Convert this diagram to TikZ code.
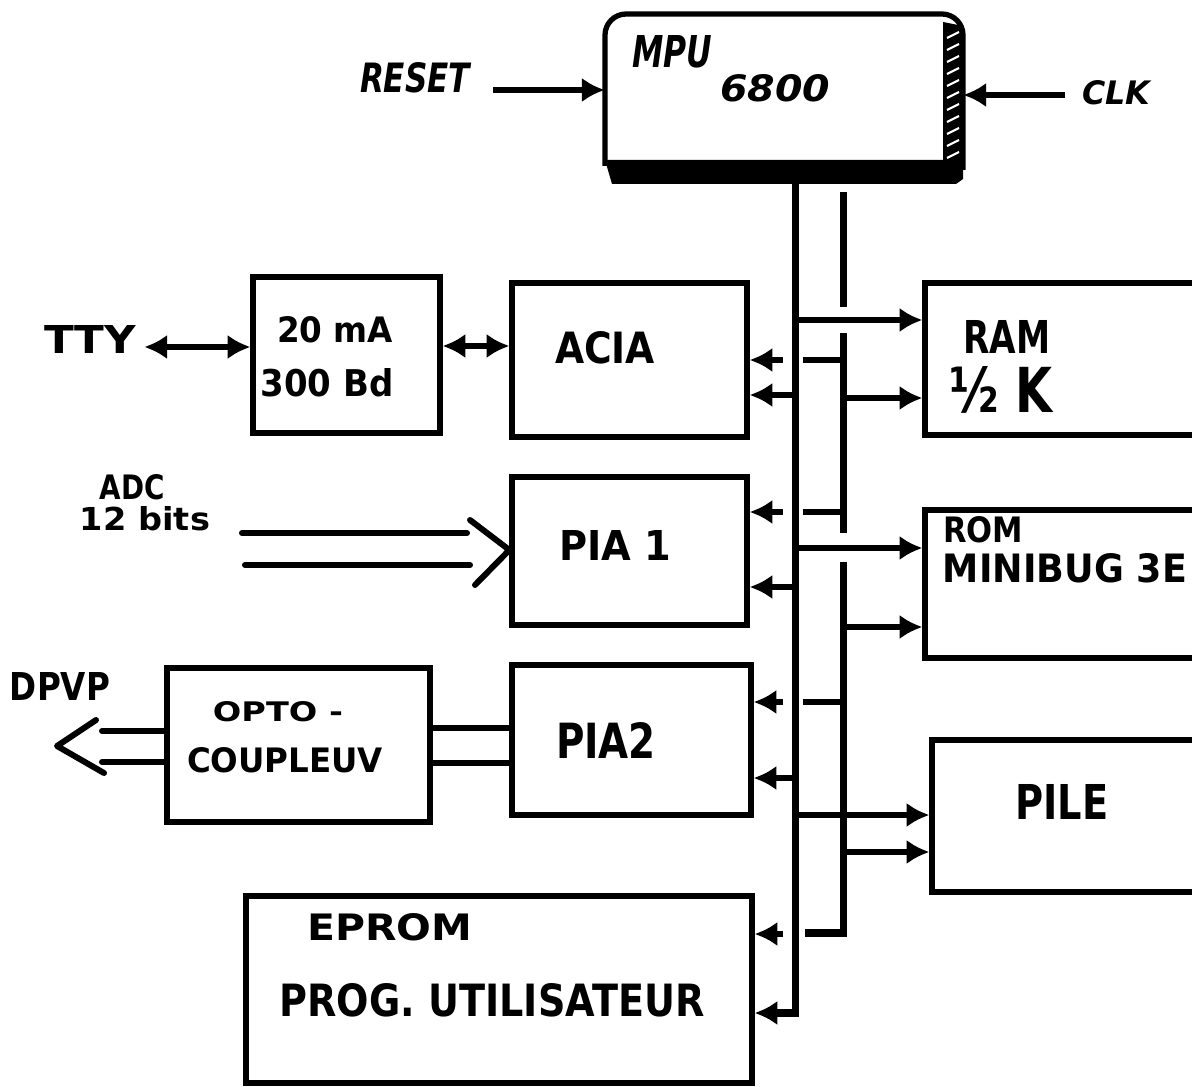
\documentclass[tikz,border=0pt]{standalone}
\usepackage{fontspec}
\setmainfont{DejaVu Sans}
\usetikzlibrary{arrows.meta}
\newlength\upx
\setlength\upx{0.02cm}
\newcommand\fitxt[3]{\resizebox{#1\upx}{#2\upx}{\bfseries #3}}
\newcommand\fitit[3]{\resizebox{#1\upx}{#2\upx}{\bfseries\itshape #3}}
\begin{document}
\begin{tikzpicture}[x=0.02cm,y=-0.02cm,
  blk/.style={draw, line width=3pt, inner sep=0pt},
  txt/.style={inner sep=0pt},
  bus/.style={line width=4pt},
  conn/.style={line width=3.4pt},
  tip/.tip={Latex[length=13pt,width=14pt]},
  arr/.style={conn, -tip},
  darr/.style={conn, tip-tip},
  open/.style={line width=3.4pt, line cap=round, line join=round}]
\useasboundingbox (0,0) rectangle (1192,1087);
\clip (0,0) rectangle (1192,1087);
\fill[white] (0,0) rectangle (1192,1087);

% ---------- MPU ----------
\node[inner sep=0pt, minimum width=7.16cm, minimum height=3.38cm] (mpu) at (784,98.5) {};
\fill (605,160) -- (963,160) -- (963,179) -- (956,184) -- (612,184) -- cycle;
\fill (943,22) -- (963,26) -- (963,165) -- (943,165) -- cycle;
\foreach \yy in {34,46,...,154} \draw[white, line width=1.2pt] (947,\yy+4) -- (959,\yy-2);
\draw[line width=3pt, rounded corners=12pt] (605,166) -- (605,14) -- (963,14) -- (963,170);
\node[txt] (tmpu) at (672,52) {\fitit{80}{32}{MPU}};
\node[txt] (t6800) at (775,88) {\fitit{110}{27}{6800}};
\node[txt] (treset) at (415,78) {\fitit{110}{30}{RESET}};
\node[txt] (tclk) at (1116,93) {\fitit{68}{24}{CLK}};
\draw[arr] (493,90) -- (mpu.west |- 0,90);
\draw[arr] (1065,95) -- (mpu.east |- 0,95);

% ---------- boxes ----------
\node[blk, minimum width=3.74cm, minimum height=3.12cm] (ma) at (346.5,355) {};
\node[blk, minimum width=4.70cm, minimum height=3.08cm] (acia) at (629.5,360) {};
\node[blk, minimum width=6.10cm, minimum height=3.04cm] (ram) at (1077.5,359) {};
\node[blk, minimum width=4.70cm, minimum height=2.96cm] (pia1) at (629.5,551) {};
\node[blk, minimum width=6.10cm, minimum height=2.96cm] (rom) at (1077.5,584) {};
\node[blk, minimum width=4.78cm, minimum height=3.00cm] (pia2) at (631.5,740) {};
\node[blk, minimum width=5.26cm, minimum height=3.08cm] (opto) at (298.5,745) {};
\node[blk, minimum width=5.96cm, minimum height=3.04cm] (pile) at (1081,816) {};
\node[blk, minimum width=10.12cm, minimum height=3.74cm] (eprom) at (499,989.5) {};

% ---------- texts ----------
\node[txt] (ttty) at (90,340) {\fitxt{92}{28}{TTY}};
\node[txt] (t20) at (335,330) {\fitxt{116}{26}{20 mA}};
\node[txt] (t300) at (327,383) {\fitxt{133}{28}{300 Bd}};
\node[txt] (tacia) at (605,348) {\fitxt{100}{32}{ACIA}};
\node[txt] (tram) at (1007,337) {\fitxt{87}{33}{RAM}};
\node[txt] (thalf) at (1001,390) {\fitxt{103}{46}{½ K}};
\node[txt] (trom) at (983,530) {\fitxt{80}{26}{ROM}};
\node[txt] (tmini) at (1065,568) {\fitxt{244}{29}{MINIBUG 3E}};
\node[txt] (tpia1) at (615,545) {\fitxt{112}{30}{PIA 1}};
\node[txt] (tadc) at (132,487) {\fitxt{65}{25}{ADC}};
\node[txt] (tbits) at (145,519) {\fitxt{130}{24}{12 bits}};
\node[txt] (tpia2) at (606,740) {\fitxt{100}{36}{PIA2}};
\node[txt] (tdpvp) at (60,686) {\fitxt{100}{28}{DPVP}};
\node[txt] (topto) at (278,712) {\fitxt{130}{20}{OPTO -}};
\node[txt] (tcoup) at (285,760) {\fitxt{196}{25}{COUPLEUV}};
\node[txt] (tpile) at (1062,802) {\fitxt{93}{35}{PILE}};
\node[txt] (tepr) at (390,927) {\fitxt{165}{27}{EPROM}};
\node[txt] (tprog) at (492,1000) {\fitxt{425}{33}{PROG. UTILISATEUR}};

% ---------- left connections ----------
\draw[darr] (ttty.east |- 0,347) ++(8,0) -- (ma.west |- 0,347);
\draw[darr] (ma.east |- 0,346) -- (acia.west |- 0,346);
\coordinate (adcA) at (242,533);
\coordinate (adcB) at (245,565);
\draw[open] (adcA) -- (467,533);
\draw[open] (adcB) -- (470,565);
\draw[open] (470,520) -- (pia1.west |- 0,550) -- (475,585);
\draw[open] (pia2.west |- 0,728) -- (opto.east |- 0,728);
\draw[open] (pia2.west |- 0,763) -- (opto.east |- 0,763);
\draw[open] (opto.west |- 0,731) -- (102,731);
\draw[open] (opto.west |- 0,762) -- (102,762);
\draw[open] (96,720) -- (57,746) -- (104,773);

% ---------- buses ----------
\coordinate (bA) at (795,184);
\coordinate (bAend) at (795,1013);
\draw[bus, -tip] (bA) -- (bAend) -- (eprom.east |- bAend);
\draw[bus] (843,192) -- (843,307);
\draw[bus] (843,333) -- (843,533);
\draw[bus] (843,562) -- (843,933) -- (805,933);

% ACIA
\draw[conn] (843,360) -- (803,360);
\draw[arr] (783,360) -- (acia.east |- 0,360);
\draw[arr] (795,395) -- (acia.east |- 0,395);
% RAM
\draw[arr] (795,320) -- (ram.west |- 0,320);
\draw[arr] (843,398) -- (ram.west |- 0,398);
% PIA1
\draw[conn] (843,512) -- (803,512);
\draw[arr] (783,512) -- (pia1.east |- 0,512);
\draw[arr] (795,587) -- (pia1.east |- 0,587);
% ROM
\draw[arr] (795,548) -- (rom.west |- 0,548);
\draw[arr] (843,627) -- (rom.west |- 0,627);
% PIA2
\draw[conn] (843,702) -- (803,702);
\draw[arr] (783,702) -- (pia2.east |- 0,702);
\draw[arr] (795,778) -- (pia2.east |- 0,778);
% PILE
\draw[arr] (795,815) -- (pile.west |- 0,815);
\draw[arr] (843,852) -- (pile.west |- 0,852);
% EPROM
\draw[arr] (783,934) -- (eprom.east |- 0,934);
\end{tikzpicture}
\end{document}
